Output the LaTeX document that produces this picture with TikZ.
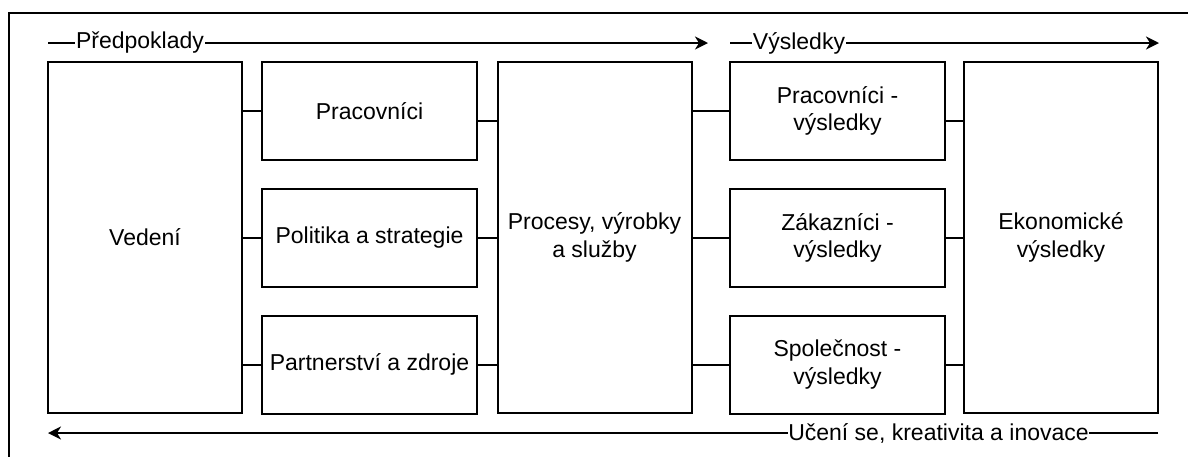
\documentclass[tikz,border=0pt]{standalone}
\usepackage{fontspec}
\setmainfont{Liberation Sans}
\usetikzlibrary{arrows.meta}
\begin{document}
\begin{tikzpicture}[x=0.5pt,y=-0.5pt,
  font=\fontsize{11.5pt}{13.6pt}\selectfont,
  box/.style={draw, line width=1pt, align=center, inner sep=0pt},
  wide/.style={box, minimum width=97pt},
  narrow/.style={box, minimum width=107.5pt, minimum height=49pt},
  link/.style={line width=1pt},
  flow/.style={line width=1pt, -{Stealth[length=6.5pt,width=6.5pt,inset=2pt]}},
  flowlabel/.style={fill=white, inner xsep=0.3pt, inner ysep=1pt}]
\useasboundingbox (0,0) rectangle (1188,457);

% frame (top and left edges)
\draw[line width=1pt] (1188,13) -- (9,13) -- (9,457);

% enablers
\node[wide, minimum height=175.5pt] (ved) at (145,237.5) {Vedení};
\node[narrow] (prac) at (369.5,111) {Pracovníci};
\node[narrow] (pol) at (369.5,238) {Politika a strategie};
\node[narrow] (part) at (369.5,364.5) {Partnerství a zdroje};
\node[wide, minimum height=175.5pt] (proc) at (594.5,237.5) {Procesy, výrobky\\a služby};

% results
\node[narrow] (pv) at (837.5,111) {Pracovníci -\\výsledky};
\node[narrow] (zv) at (837.5,238) {Zákazníci -\\výsledky};
\node[narrow] (sv) at (837.5,364.5) {Společnost -\\výsledky};
\node[wide, minimum height=175.5pt] (ekon) at (1061,237.5) {Ekonomické\\výsledky};

% links between columns
\draw[link] (prac.west) -- (prac.west -| ved.east);
\draw[link] (pol.west) -- (pol.west -| ved.east);
\draw[link] (part.west) -- (part.west -| ved.east);
\draw[link] ([yshift=-5pt]prac.east) -- ([yshift=-5pt]prac.east -| proc.west);
\draw[link] (pol.east) -- (pol.east -| proc.west);
\draw[link] (part.east) -- (part.east -| proc.west);
\draw[link] (pv.west) -- (pv.west -| proc.east);
\draw[link] (zv.west) -- (zv.west -| proc.east);
\draw[link] (sv.west) -- (sv.west -| proc.east);
\draw[link] ([yshift=-5pt]pv.east) -- ([yshift=-5pt]pv.east -| ekon.west);
\draw[link] (zv.east) -- (zv.east -| ekon.west);
\draw[link] (sv.east) -- (sv.east -| ekon.west);

% flow arrows
\coordinate (enA) at (48,43);
\coordinate (enB) at (708,43);
\coordinate (reA) at (730,43);
\coordinate (reB) at (1159,43);
\coordinate (leA) at (1158,433);
\coordinate (leB) at (48,433);
\draw[flow] (enA) -- (enB);
\draw[flow] (reA) -- (reB);
\draw[flow] (leA) -- (leB);
\node[flowlabel] (lblEn) at (140,43) {Předpoklady};
\node[flowlabel] (lblRe) at (799,43) {Výsledky};
\node[flowlabel] (lblLe) at (938.5,433) {Učení se, kreativita a inovace};
\end{tikzpicture}
\end{document}
